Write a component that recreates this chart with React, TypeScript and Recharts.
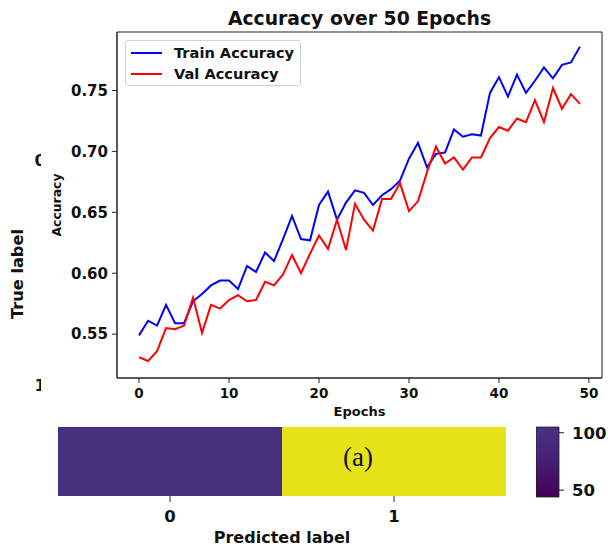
import { Bar, BarChart, Cell, Line, LineChart, ReferenceArea, XAxis, YAxis } from "recharts";

const trainAcc = [
  0.549, 0.561, 0.557, 0.574, 0.559, 0.559, 0.577, 0.583, 0.590, 0.594,
  0.594, 0.587, 0.606, 0.601, 0.617, 0.610, 0.628, 0.647, 0.628, 0.627,
  0.656, 0.667, 0.644, 0.658, 0.668, 0.666, 0.656, 0.664, 0.669, 0.676,
  0.694, 0.707, 0.687, 0.698, 0.699, 0.718, 0.712, 0.714, 0.713, 0.748,
  0.761, 0.745, 0.763, 0.748, 0.758, 0.769, 0.760, 0.771, 0.773, 0.786,
];
const valAcc = [
  0.531, 0.528, 0.536, 0.555, 0.554, 0.557, 0.580, 0.551, 0.574, 0.571,
  0.578, 0.582, 0.577, 0.578, 0.593, 0.590, 0.599, 0.615, 0.600, 0.616,
  0.631, 0.620, 0.644, 0.619, 0.657, 0.644, 0.635, 0.661, 0.661, 0.674,
  0.651, 0.659, 0.683, 0.704, 0.690, 0.695, 0.685, 0.695, 0.695, 0.711,
  0.720, 0.717, 0.727, 0.724, 0.742, 0.724, 0.752, 0.735, 0.747, 0.739,
];
const epochTicks = [0, 10, 20, 30, 40, 50];
const accTicks = [0.55, 0.6, 0.65, 0.7, 0.75];

const predLabels = ["0", "1"];
const cellColors = ["#46307e", "#e6e419"];
const colorbarRange = [44, 105];
const colorbarTicks = [50, 100];

const series = [
  { key: "train", name: "Train Accuracy", color: "#0000ff" },
  { key: "val", name: "Val Accuracy", color: "#ff0000" },
];

const rows = trainAcc.map((t, i) => ({ epoch: i, train: t, val: valAcc[i] }));
const cells = predLabels.map((p) => ({ pred: p, span: 1 }));
const colorbar = [{ name: "cb", range: colorbarRange }];

const FONT = "'DejaVu Sans', sans-serif";
const INK = "#222";

export default function App() {
  return (
    <div style={{ position: "absolute", left: 0, top: 0, width: 608, height: 548, background: "#fff", overflow: "hidden", fontFamily: FONT }}>
      {/* confusion matrix, mostly hidden under the accuracy plot */}
      <div style={{ position: "absolute", left: 0, top: 0 }}>
        <BarChart width={608} height={548} data={cells} margin={{ top: 427, right: 102, bottom: 0, left: 58 }} barCategoryGap={0} barGap={0}>
          <XAxis
            dataKey="pred"
            height={52}
            axisLine={false}
            tickSize={6}
            tickMargin={8}
            stroke={INK}
            tick={{ fill: "#111", fontSize: 16.5, fontWeight: 700, fontFamily: FONT }}
            label={{ value: "Predicted label", position: "insideBottom", offset: 5, fill: "#111", fontSize: 16, fontWeight: 700, fontFamily: FONT }}
          />
          <YAxis hide domain={[0, 1]} />
          <Bar dataKey="span" isAnimationActive={false}>
            {cells.map((c, i) => (
              <Cell key={c.pred} fill={cellColors[i]} />
            ))}
          </Bar>
        </BarChart>
      </div>
      <div style={{ position: "absolute", left: 536, top: 420 }}>
        <BarChart width={72} height={85} data={colorbar} margin={{ top: 7, right: 0, bottom: 8, left: 0 }} barCategoryGap={0}>
          <defs>
            <linearGradient id="viridisLow" x1="0" y1="1" x2="0" y2="0">
              <stop offset="0" stopColor="#440154" />
              <stop offset="0.6" stopColor="#48237a" />
              <stop offset="1" stopColor="#46327e" />
            </linearGradient>
          </defs>
          <XAxis dataKey="name" hide />
          <YAxis
            orientation="right"
            type="number"
            width={49}
            domain={colorbarRange}
            ticks={colorbarTicks}
            axisLine={false}
            tickSize={5}
            tickMargin={8}
            stroke={INK}
            tick={{ fill: "#111", fontSize: 16.5, fontWeight: 700, fontFamily: FONT, textAnchor: "start" }}
          />
          <Bar dataKey="range" fill="url(#viridisLow)" stroke={INK} strokeWidth={0.8} isAnimationActive={false} />
        </BarChart>
      </div>
      <svg width={608} height={548} style={{ position: "absolute", left: 0, top: 0 }}>
        <text x={17} y={274} transform="rotate(-90 17 274)" textAnchor="middle" dominantBaseline="central" fontSize={16.2} fontWeight={700} fill="#111" fontFamily={FONT}>
          True label
        </text>
        <text x={46} y={166} textAnchor="end" fontSize={16.5} fontWeight={700} fill="#111" fontFamily={FONT}>0</text>
        <text x={46} y={391} textAnchor="end" fontSize={16.5} fontWeight={700} fill="#111" fontFamily={FONT}>1</text>
      </svg>

      {/* accuracy curves */}
      <div style={{ position: "absolute", left: 41, top: 4, width: 567, height: 422, background: "#fff" }}>
        <div style={{ position: "absolute", left: 76, top: 6, width: 485, textAlign: "center", fontSize: 18.8, lineHeight: 1, fontWeight: 700, color: "#111" }}>
          Accuracy over 50 Epochs
        </div>
        <LineChart width={567} height={422} data={rows} margin={{ top: 28, right: 6, bottom: 0, left: 0 }}>
          <XAxis
            dataKey="epoch"
            type="number"
            domain={[-2.45, 51.45]}
            ticks={epochTicks}
            height={48}
            stroke={INK}
            tickSize={5}
            tickMargin={5}
            tick={{ fill: "#111", fontSize: 13.5, fontWeight: 700, fontFamily: FONT }}
            label={{ value: "Epochs", position: "insideBottom", offset: 10, fill: "#111", fontSize: 13, fontWeight: 700, fontFamily: FONT }}
          />
          <YAxis
            type="number"
            domain={[0.514, 0.798]}
            ticks={accTicks}
            width={76}
            stroke={INK}
            tickSize={5}
            tickMargin={4}
            tickFormatter={(v: number) => v.toFixed(2)}
            tick={{ fill: "#111", fontSize: 15, fontWeight: 700, fontFamily: FONT }}
            label={{ value: "Accuracy", angle: -90, position: "insideLeft", offset: 16, fill: "#111", fontSize: 12.4, fontWeight: 700, fontFamily: FONT, style: { textAnchor: "middle" } }}
          />
          <ReferenceArea x1={-2.45} x2={51.45} y1={0.514} y2={0.798} fill="none" stroke={INK} strokeWidth={1} />
          {series.map((s) => (
            <Line key={s.key} dataKey={s.key} name={s.name} stroke={s.color} strokeWidth={2} dot={false} isAnimationActive={false} />
          ))}
        </LineChart>
        <div style={{ position: "absolute", left: 84, top: 36, width: 176, height: 46, boxSizing: "border-box", border: "1px solid #d0d0d0", borderRadius: 3, background: "rgba(255,255,255,0.85)", paddingLeft: 5, paddingTop: 1 }}>
          {series.map((s) => (
            <div key={s.key} style={{ display: "flex", alignItems: "center", height: 21 }}>
              <span style={{ width: 31, height: 2, background: s.color, marginRight: 12 }} />
              <span style={{ fontSize: 14.6, fontWeight: 700, color: "#111", whiteSpace: "nowrap" }}>{s.name}</span>
            </div>
          ))}
        </div>
      </div>

      <div style={{ position: "absolute", left: 308, top: 440, width: 100, textAlign: "center", fontFamily: "'Liberation Serif', 'DejaVu Serif', serif", fontSize: 27, lineHeight: "34px", color: "#111" }}>
        (a)
      </div>
    </div>
  );
}
